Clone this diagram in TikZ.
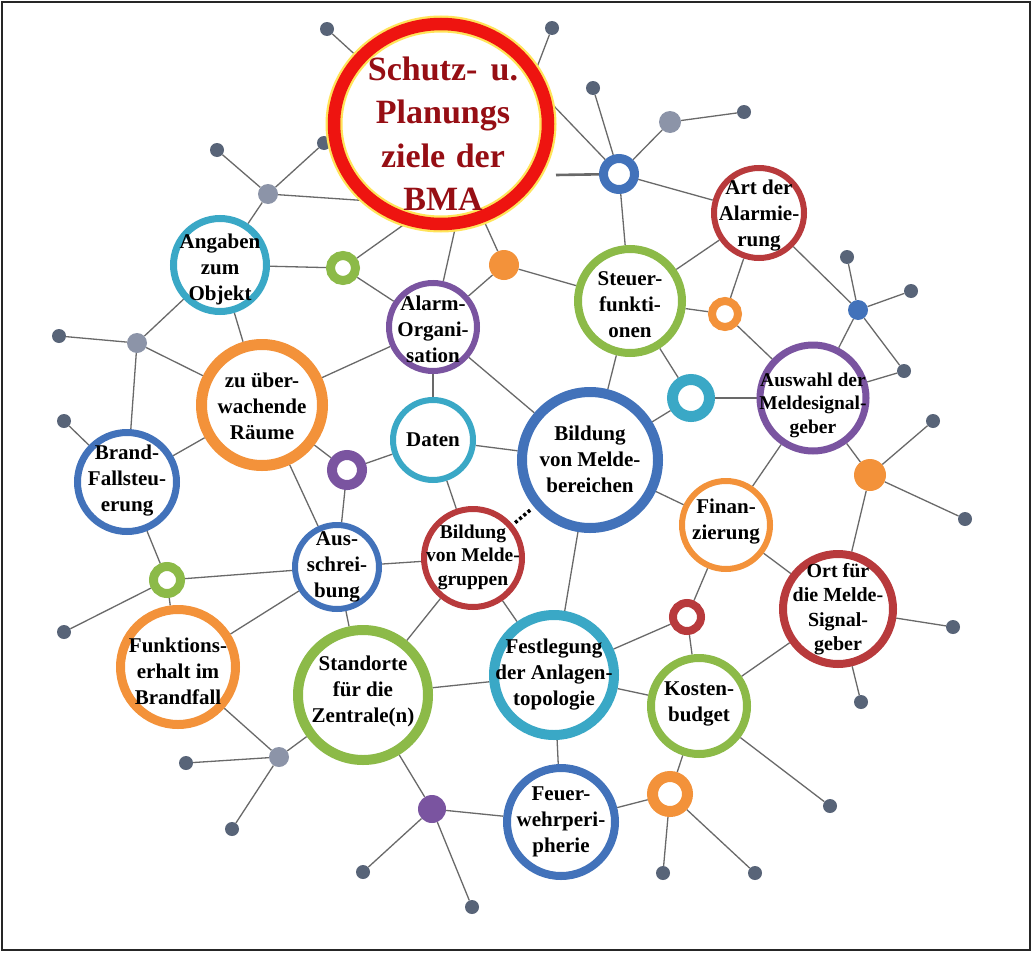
\documentclass[tikz,border=0pt]{standalone}
\usepackage{fontspec}
\setmainfont{Liberation Serif}
\usetikzlibrary{shapes.geometric,backgrounds}
\definecolor{cblue}{RGB}{66,114,186}
\definecolor{cteal}{RGB}{58,168,198}
\definecolor{cgreen}{RGB}{140,186,72}
\definecolor{corange}{RGB}{243,146,58}
\definecolor{cpurple}{RGB}{122,84,160}
\definecolor{cdred}{RGB}{184,58,60}
\definecolor{cdark}{RGB}{88,100,120}
\definecolor{cgray}{RGB}{140,148,168}
\definecolor{cline}{RGB}{105,105,105}
\definecolor{cbig}{RGB}{238,20,16}
\definecolor{cglow}{RGB}{255,228,90}
\definecolor{cbigtxt}{RGB}{150,14,20}
\tikzset{
  ring/.style n args={3}{circle, draw=#1, line width=#2, minimum size=#3, inner sep=0pt, fill=white},
  blob/.style n args={2}{circle, fill=#1, minimum size=#2, inner sep=0pt},
  darkdot/.style={circle, fill=cdark, minimum size=14pt, inner sep=0pt},
  txt/.style={align=center, inner sep=0pt, font=\fontsize{21}{26}\selectfont\bfseries},
  stxt/.style={align=center, inner sep=0pt, font=\fontsize{19.5}{23.5}\selectfont\bfseries},
  bigtxt/.style={align=center, inner sep=0pt, text=cbigtxt, font=\fontsize{34}{43.5}\selectfont\bfseries},
  edge/.style={draw=cline, line width=1.3pt},
  dotlink/.style={draw=black, line width=3.5pt, dash pattern=on 3pt off 2.5pt},
}
\begin{document}
\begin{tikzpicture}[x=1pt,y=-1pt]
\useasboundingbox (0,0) rectangle (1033,953);
\draw[line width=2pt, black!85] (2,2) rectangle (1030,950);

% dark end dots
\foreach \n/\x/\y in {d1/327/29, d2/217/150, d3/324/143, d4/59/336, d5/64/421,
  d6/552/28, d7/593/88, d8/744/112, d9/847/257, d10/911/291, d11/904/371,
  d12/933/421, d13/965/519, d14/953/627, d15/861/702, d16/830/806,
  d17/663/873, d18/755/873, d19/472/907, d20/363/872, d21/232/829,
  d22/186/763, d23/64/632}
  \node[darkdot] (\n) at (\x,\y) {};

% filled medium dots
\node[blob={cgray}{20pt}] (gd1) at (268,194) {};
\node[blob={cgray}{20pt}] (gd2) at (137,343) {};
\node[blob={cgray}{22pt}] (gd3) at (670,122) {};
\node[blob={cgray}{20pt}] (gd4) at (279,757) {};
\node[blob={corange}{30pt}] (od1) at (504,265) {};
\node[blob={corange}{32pt}] (od2) at (870,475) {};
\node[blob={cblue}{20pt}] (bd) at (858,310) {};
\node[blob={cpurple}{28pt}] (pd) at (432,809) {};

% small rings
\node[ring={cgreen}{9pt}{25pt}] (g1) at (343,268) {};
\node[ring={cpurple}{10pt}{30pt}] (p1) at (347,470) {};
\node[ring={cblue}{9pt}{31pt}] (b1) at (619,174) {};
\node[ring={corange}{8pt}{26pt}] (o1) at (725,314) {};
\node[ring={cteal}{11pt}{37pt}] (tr) at (691,398) {};
\node[ring={cdred}{8pt}{28pt}] (r1) at (687,617) {};
\node[ring={corange}{11pt}{35pt}] (o2) at (670,794) {};
\node[ring={cgreen}{9pt}{27pt}] (g2) at (167,580) {};

% main circles
\node[ring={cteal}{7pt}{93pt}] (ang) at (220,265) {};
\node[ring={cpurple}{6pt}{88pt}] (alarm) at (433,327) {};
\node[ring={corange}{11pt}{121pt}] (raum) at (262,405) {};
\node[ring={cteal}{6pt}{80pt}] (daten) at (433,440) {};
\node[ring={cblue}{7pt}{99pt}] (brand) at (127,482) {};
\node[ring={cblue}{10pt}{136pt}] (mbr) at (590,460) {};
\node[ring={cdred}{6pt}{98pt}] (mgr) at (473,558) {};
\node[ring={cblue}{6pt}{84pt}] (aus) at (337,567) {};
\node[ring={corange}{9pt}{115pt}] (funk) at (178,667) {};
\node[ring={cgreen}{10pt}{130pt}] (stand) at (363,695) {};
\node[ring={cteal}{10pt}{120pt}] (fest) at (554,675) {};
\node[ring={cgreen}{8pt}{96pt}] (kost) at (699,706) {};
\node[ring={cblue}{8pt}{108pt}] (feuer) at (561,822) {};
\node[ring={corange}{6pt}{88pt}] (fin) at (726,525) {};
\node[ring={cdred}{8pt}{110pt}] (ort) at (838,609) {};
\node[ring={cpurple}{7pt}{106pt}] (ausw) at (813,398) {};
\node[ring={cgreen}{8pt}{104pt}] (steu) at (630,301) {};
\node[ring={cdred}{6pt}{90pt}] (art) at (759,213) {};

% big goal circle
\node[ellipse, minimum width=214pt, minimum height=200pt, inner sep=0pt,
  preaction={fill=white}, preaction={draw=cglow, line width=17pt},
  draw=cbig, line width=12.5pt] (big) at (441,124) {};

% hidden / free coordinates
\coordinate (hd1) at (385,82);
\coordinate (hgd1) at (400,203);
\coordinate (hg1) at (430,206);
\coordinate (halarm) at (466,180);
\coordinate (hod1) at (470,190);
\coordinate (hd6) at (526,96);
\coordinate (hb1) at (529,80);
\coordinate (s1) at (556,175);

% texts
\node[bigtxt] (big-t) at (443,134) {Schutz-\hspace{0.14em} u.\\Planungs\\ziele\hspace{0.06em} der\\BMA};
\node[txt] (ang-t) at (220,269) {Angaben\\zum\\Objekt};
\node[txt] (alarm-t) at (433,329) {Alarm-\\Organi-\\sation};
\node[txt] (raum-t) at (262,406) {zu über-\\wachende\\Räume};
\node[txt] (daten-t) at (433,440) {Daten};
\node[txt] (brand-t) at (127,481) {Brand-\\Fallsteu-\\erung};
\node[txt] (mbr-t) at (590,459) {Bildung\\von Melde-\\bereichen};
\node[stxt] (mgr-t) at (473,557) {Bildung\\von Melde-\\gruppen};
\node[txt] (aus-t) at (337,567) {Aus-\\schrei-\\bung};
\node[txt] (funk-t) at (178,671) {Funktions-\\erhalt im\\Brandfall};
\node[txt] (stand-t) at (363,691) {Standorte\\für die\\Zentrale(n)};
\node[txt] (fest-t) at (554,675) {Festlegung\\der Anlagen-\\topologie};
\node[txt] (kost-t) at (699,704) {Kosten-\\budget};
\node[txt] (feuer-t) at (561,822) {Feuer-\\wehrperi-\\pherie};
\node[txt] (fin-t) at (726,522) {Finan-\\zierung};
\node[stxt, font=\fontsize{20}{24.5}\selectfont\bfseries] (ort-t) at (838,609) {Ort für\\die Melde-\\Signal-\\geber};
\node[stxt] (ausw-t) at (813,405) {Auswahl der\\Meldesignal-\\geber};
\node[txt] (steu-t) at (630,305) {Steuer-\\funkti-\\onen};
\node[txt] (art-t) at (759,216) {Art der\\Alarmie-\\rung};

\begin{pgfonlayer}{background}
\fill[white] (0,0) rectangle (1033,953);
\foreach \a/\b in {d1/hd1, d2/gd1, gd1/d3, gd1/hgd1, gd1/ang, ang/g1, g1/hg1,
  g1/alarm, halarm/alarm, hod1/od1, od1/alarm, ang/gd2, d4/gd2, gd2/raum,
  gd2/brand, ang/raum, raum/alarm, alarm/daten, alarm/mbr, d5/brand,
  raum/brand, raum/p1, raum/aus, p1/daten, p1/aus, d6/hd6, hb1/b1, d7/b1,
  b1/gd3, gd3/d8, b1/art, b1/steu, od1/steu, art/steu, art/o1, steu/o1,
  o1/ausw, art/bd, d9/bd, bd/d10, bd/d11, bd/ausw, ausw/d11, steu/tr,
  steu/mbr, tr/ausw, tr/mbr, ausw/od2, od2/d12, ausw/fin, mbr/daten,
  mbr/fin, od2/d13, od2/ort, fin/ort, fin/r1, r1/fest, r1/kost, ort/d14,
  ort/d15, ort/kost, mbr/fest, mgr/fest, fest/kost, fest/feuer, kost/d16,
  kost/o2, o2/feuer, o2/d17, o2/d18, daten/mgr, aus/mgr, mgr/stand,
  aus/stand, aus/g2, aus/funk, brand/g2, g2/funk, g2/d23, funk/gd4,
  gd4/d22, gd4/d21, gd4/stand, stand/fest, stand/pd, pd/d20, pd/d19,
  pd/feuer}
  \draw[edge] (\a) -- (\b);
\draw[edge, line width=2.6pt] (s1) -- (b1);
\end{pgfonlayer}
\draw[dotlink, shorten <=3pt, shorten >=3pt] (mgr) -- (mbr);
\end{tikzpicture}
\end{document}
